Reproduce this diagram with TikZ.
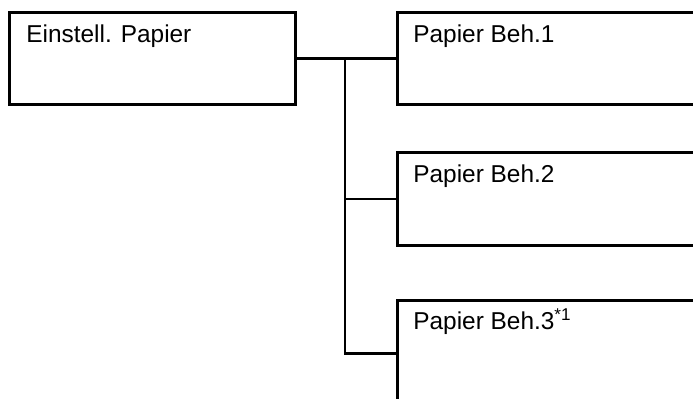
\documentclass[tikz,border=0pt]{standalone}
\usepackage{fontspec}
\setmainfont{Liberation Sans}
\tikzset{
     menubox/.style = { draw, line width=1.3pt, minimum width=160pt, anchor=north west, inner sep=0pt },
    menutext/.style = { font=\fontsize{12.2}{14}\selectfont, anchor=base west, inner sep=0pt },
        link/.style = { line width=1.3pt }
}
\begin{document}
\begin{tikzpicture}[x=0.5pt, y=-0.5pt]
  \useasboundingbox (0,0) rectangle (693,398);
  \clip (0,0) rectangle (693,398);

  % menu boxes
  \node [menubox, minimum width=143pt, minimum height=46pt] (einst) at (8,11) {};
  \node [menubox, minimum height=46pt] (beh1) at (396,11) {};
  \node [menubox, minimum height=46.5pt] (beh2) at (396,151) {};
  \node [menubox, minimum height=53pt] (beh3) at (396,299) {};

  % entries
  \node [menutext] (einst-t) at ([shift={(18,31)}]einst.north west) {Einstell. Papier};
  \node [menutext] (beh1-t) at ([shift={(17,31)}]beh1.north west) {Papier Beh.1};
  \node [menutext] (beh2-t) at ([shift={(17,31)}]beh2.north west) {Papier Beh.2};
  \node [menutext] (beh3-t) at ([shift={(17,30)}]beh3.north west) {Papier Beh.3\textsuperscript{*1}};

  % tree lines
  \coordinate (trunk) at (345,57);
  \draw [link] (einst.east) -- (beh1.west);
  \draw [link] (trunk) |- (beh3.west);
  \draw [link] (trunk |- beh2.west) -- (beh2.west);
\end{tikzpicture}
\end{document}
